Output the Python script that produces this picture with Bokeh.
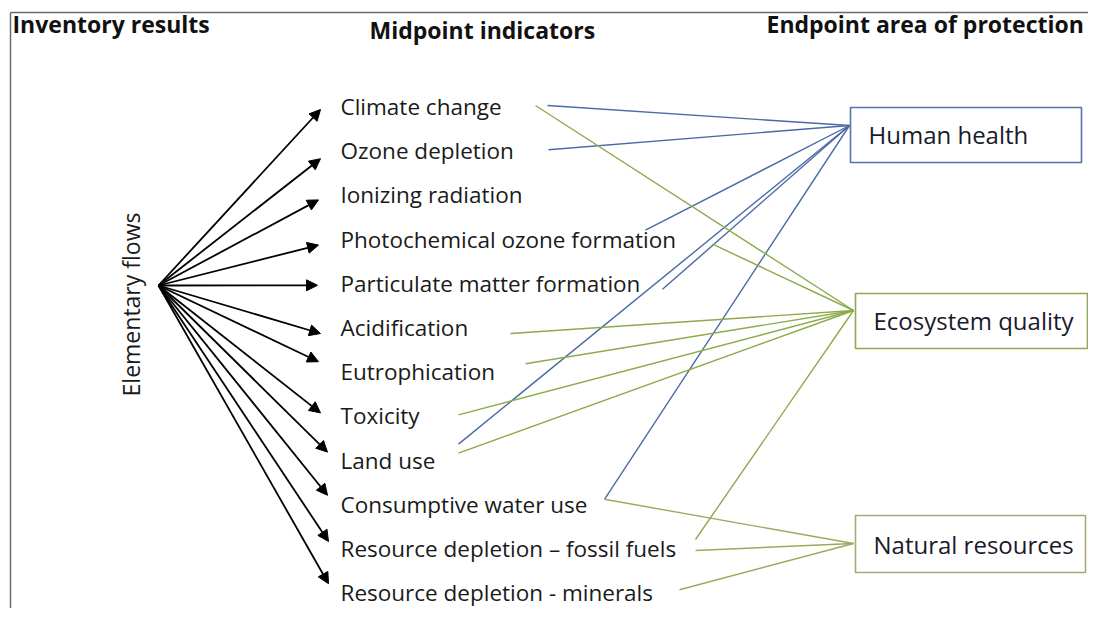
from bokeh.plotting import figure
from bokeh.models import Range1d, ColumnDataSource, Arrow, NormalHead, Label
from bokeh.core.properties import value
from bokeh.embed import file_html
from bokeh.resources import INLINE

# ---------------- data ----------------
headers = ["Inventory results", "Midpoint indicators", "Endpoint area of protection"]
source_label = "Elementary flows"
midpoints = [
    "Climate change",
    "Ozone depletion",
    "Ionizing radiation",
    "Photochemical ozone formation",
    "Particulate matter formation",
    "Acidification",
    "Eutrophication",
    "Toxicity",
    "Land use",
    "Consumptive water use",
    "Resource depletion \u2013 fossil fuels",
    "Resource depletion - minerals",
]
endpoints = ["Human health", "Ecosystem quality", "Natural resources"]
link_source = [
    "Climate change", "Ozone depletion", "Photochemical ozone formation",
    "Particulate matter formation", "Land use", "Consumptive water use",
    "Climate change", "Photochemical ozone formation", "Acidification",
    "Eutrophication", "Toxicity", "Land use", "Resource depletion \u2013 fossil fuels",
    "Consumptive water use", "Resource depletion \u2013 fossil fuels",
    "Resource depletion - minerals",
]
link_target = ["Human health"] * 6 + ["Ecosystem quality"] * 7 + ["Natural resources"] * 3

# ---------------- layout (pixel positions of the drawing) ----------------
FONT = value("Open Sans")
mid_x = 340
mid_y0, mid_dy = 106, 44.2
mid_y = [mid_y0 + mid_dy * i for i in range(len(midpoints))]
mid_index = {m: i for i, m in enumerate(midpoints)}
flow_origin = (158, 285)
# arrow tip: x, and vertical offset from the label centre
tip_x = [320, 320, 318, 318, 317, 320, 318, 320, 327, 327, 328, 328]
tip_dy = [3, 8, 5, 6, 2, 6, -10, -3, -8, -9, -7, -9]
# link start: x, and vertical offset from the source label centre
start_x = [547, 548, 645, 662, 458, 604,
           535, 712, 510, 525, 458, 458, 695,
           604, 695, 679]
start_dy = [-1, -1, -9, 6, -16, -5,
            -1, 5, 6, -8, -1, -7, -9,
            -5, 2, -3]
end_anchor = {"Human health": (849, 125), "Ecosystem quality": (853, 310),
              "Natural resources": (853, 543)}
end_box = {"Human health": (850, 1081, 107, 162), "Ecosystem quality": (855, 1087, 293, 348),
           "Natural resources": (855, 1085, 515, 572)}
end_text = {"Human health": (868, 134), "Ecosystem quality": (873, 320),
            "Natural resources": (873, 544)}
link_color = {"Human health": "#4a6aa5", "Ecosystem quality": "#8dab4a",
              "Natural resources": "#9ea85e"}
box_line = {"Human health": "#5574a8", "Ecosystem quality": "#8fa852",
            "Natural resources": "#a8a878"}
header_pos = [(12, 23), (369, 29), (766, 23)]

# ---------------- figure ----------------
p = figure(width=1088, height=608, x_range=Range1d(0, 1088), y_range=Range1d(608, 0),
           output_backend="svg", toolbar_location=None, min_border=0,
           x_axis_location=None, y_axis_location=None)
p.grid.visible = False
p.outline_line_color = None
p.background_fill_color = "white"

# frame (top and left)
p.segment(x0=[10, 10], y0=[12, 12], x1=[1100, 10], y1=[12, 620], line_color="#6b6b6b", line_width=1.5)

# headers
p.text(x=[h[0] for h in header_pos], y=[h[1] for h in header_pos], text=headers,
       text_font=FONT, text_font_style="bold", text_font_size="23px",
       text_baseline="middle", text_align="left", text_color="#111111")

# source label (rotated)
p.add_layout(Label(x=130, y=304, text=source_label, angle=90, angle_units="deg",
                   text_font="Open Sans", text_font_size="23px", text_align="center",
                   text_baseline="middle", text_color="#1a1a1a"))

# flow arrows
n = len(midpoints)
arr_src = ColumnDataSource(dict(x0=[flow_origin[0]] * n, y0=[flow_origin[1]] * n,
                                x1=tip_x, y1=[mid_y[i] + tip_dy[i] for i in range(n)]))
p.add_layout(Arrow(source=arr_src, x_start="x0", y_start="y0", x_end="x1", y_end="y1",
                   line_color="black", line_width=1.8,
                   end=NormalHead(size=11, fill_color="black", line_color="black")))

# midpoint labels
p.text(x=[mid_x] * n, y=mid_y, text=midpoints, text_font=FONT,
       text_font_size="22.5px", text_baseline="middle", text_align="left", text_color="#1a1a1a")

# links midpoint -> endpoint
lx0 = start_x
ly0 = [mid_y[mid_index[s]] + d for s, d in zip(link_source, start_dy)]
lx1 = [end_anchor[t][0] for t in link_target]
ly1 = [end_anchor[t][1] for t in link_target]
lc = [link_color[t] for t in link_target]
p.segment(x0=lx0, y0=ly0, x1=lx1, y1=ly1, line_color=lc, line_width=1.4)

# endpoint boxes
p.quad(left=[end_box[e][0] for e in endpoints], right=[end_box[e][1] for e in endpoints],
       top=[end_box[e][2] for e in endpoints], bottom=[end_box[e][3] for e in endpoints],
       fill_color="white", line_color=[box_line[e] for e in endpoints], line_width=1.6)
p.text(x=[end_text[e][0] for e in endpoints], y=[end_text[e][1] for e in endpoints], text=endpoints,
       text_font=FONT, text_font_size="24px", text_baseline="middle", text_align="left",
       text_color="#1a1a2a")

open("out.html", "w").write(file_html(p, INLINE))
